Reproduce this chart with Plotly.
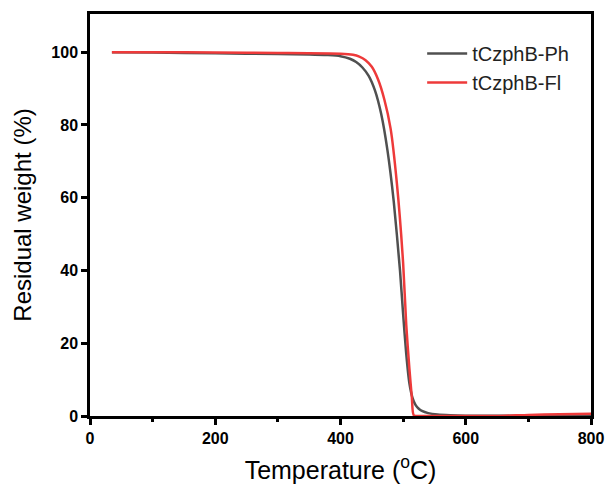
import plotly.graph_objects as go

# Data
temp_ph = [35, 100, 200, 300, 350, 380, 400, 415, 425, 435, 445, 455, 465, 475, 485, 495, 500, 505, 510, 515, 520, 525, 530, 540, 555, 575, 600, 650, 700, 750, 800]
w_ph = [100, 99.9, 99.7, 99.5, 99.4, 99.2, 98.9, 98.2, 97.3, 95.8, 93.5, 89.5, 83, 73, 59, 40, 28, 17, 9, 5, 3, 2, 1.4, 0.8, 0.4, 0.2, 0.1, 0.1, 0.1, 0.2, 0.3]

temp_fl = [35, 100, 200, 300, 400, 420, 430, 440, 450, 460, 470, 480, 490, 500, 505, 510, 514, 517, 530, 600, 650, 700, 750, 800]
w_fl = [100, 100, 99.9, 99.8, 99.6, 99.3, 98.8, 97.8, 96, 92.5, 87, 79, 64, 42, 25, 13, 5, 0.2, 0, 0, 0, 0.3, 0.5, 0.6]

names = ["tCzphB-Ph", "tCzphB-Fl"]
colors = ["#505050", "#ee3a3a"]

x_ticks = [0, 200, 400, 600, 800]
x_minor = [100, 300, 500, 700]
y_ticks = [0, 20, 40, 60, 80, 100]

fig = go.Figure()
fig.add_trace(go.Scatter(x=temp_ph, y=w_ph, mode="lines", name=names[0],
                         line=dict(color=colors[0], width=2.5, shape="spline", smoothing=0.6)))
fig.add_trace(go.Scatter(x=temp_fl, y=w_fl, mode="lines", name=names[1],
                         line=dict(color=colors[1], width=2.5, shape="spline", smoothing=0.6)))

font_family = "Liberation Sans, Arial, sans-serif"

fig.update_layout(
    width=607, height=485,
    margin=dict(l=90, r=16, t=14, b=69),
    paper_bgcolor="white", plot_bgcolor="white",
    showlegend=True,
    legend=dict(x=0.663, y=0.95, xanchor="left", yanchor="top",
                font=dict(family=font_family, size=20, color="#222"),
                bgcolor="rgba(0,0,0,0)", tracegroupgap=0, itemwidth=40),
    font=dict(family=font_family),
)

fig.update_xaxes(
    range=[0, 800], showgrid=False, zeroline=False, automargin=False,
    showline=True, linecolor="black", linewidth=2.5, mirror=True,
    ticks="outside", ticklen=6, tickwidth=2.5, tickcolor="black",
    tickvals=x_ticks,
    tickfont=dict(family=font_family, size=16, color="black", weight="bold"),
    minor=dict(tickvals=x_minor, ticks="outside", ticklen=3, tickwidth=2.5, tickcolor="black"),
    title=dict(text="Temperature (<sup>o</sup>C)", font=dict(family=font_family, size=25, color="black"), standoff=16),
)
fig.update_yaxes(
    range=[0, 110.5], showgrid=False, zeroline=False, automargin=False,
    showline=True, linecolor="black", linewidth=2.5, mirror=True,
    ticks="outside", ticklen=6, tickwidth=2.5, tickcolor="black",
    tickvals=y_ticks,
    tickfont=dict(family=font_family, size=16, color="black", weight="bold"),
    title=dict(text="Residual weight (%)", font=dict(family=font_family, size=24, color="black"), standoff=13),
)

fig.write_html("out.html")
